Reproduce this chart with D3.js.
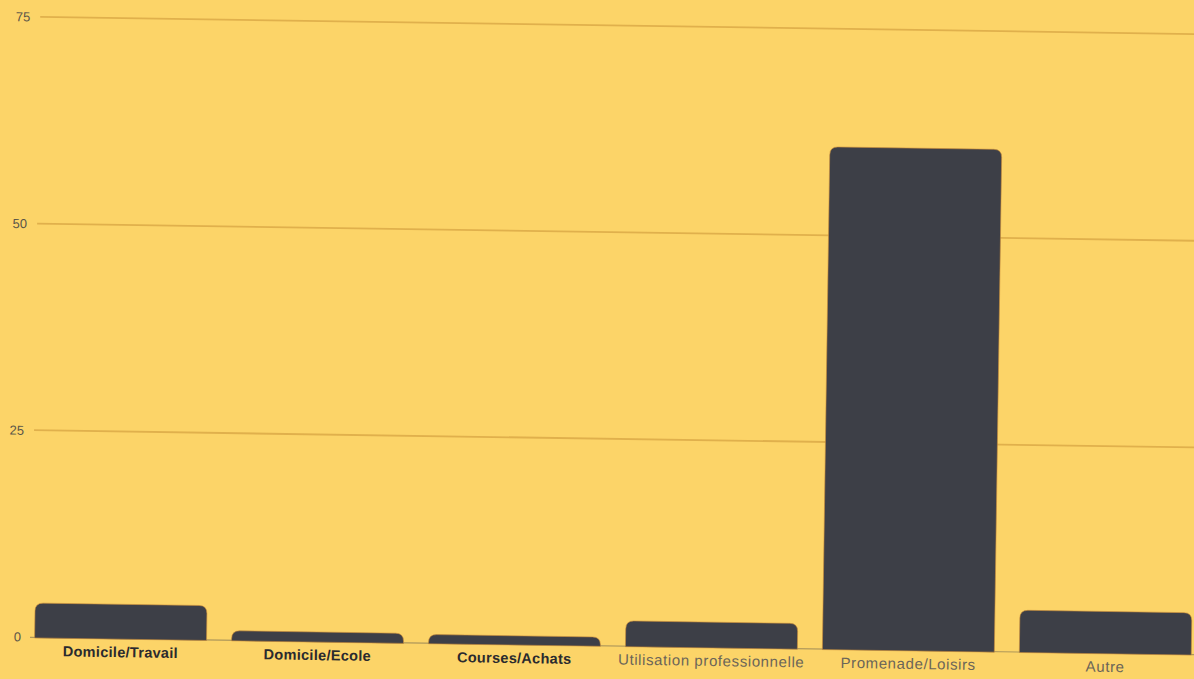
<!DOCTYPE html>
<html>
<head>
<meta charset="utf-8">
<script src="https://cdn.jsdelivr.net/npm/d3@7"></script>
<style>
  html, body { margin: 0; padding: 0; background: #fcd468; }
  svg { display: block; }
</style>
</head>
<body>
<svg id="chart" width="1194" height="679"></svg>
<script>
// Motif de déplacement (%)
const categories = ["Domicile/Travail", "Domicile/Ecole", "Courses/Achats",
                    "Utilisation professionnelle", "Promenade/Loisirs", "Autre"];
const values = [4.1, 1.1, 1.0, 3.0, 60.7, 5.0];
const boldLabels = [true, true, true, false, false, false];
const yTicks = [0, 25, 50, 75];

const W = 1194, H = 679;
const baseY = 637, topY = 17;
const svg = d3.select("#chart");

svg.append("rect").attr("width", W).attr("height", H).attr("fill", "#fcd468");

// the printed chart sits slightly tilted on the page
const g = svg.append("g")
  .attr("transform", `rotate(0.85, 40, ${baseY})`);

const x = d3.scaleBand().domain(categories).range([22, 1204])
  .paddingInner(0.127).paddingOuter(0.064);
const y = d3.scaleLinear().domain([0, 75]).range([baseY, topY]);

// horizontal grid
g.selectAll("line.grid").data(yTicks.filter(d => d > 0)).join("line")
  .attr("class", "grid")
  .attr("x1", 31).attr("x2", 1260)
  .attr("y1", d => y(d)).attr("y2", d => y(d))
  .attr("stroke", "#e0b04c").attr("stroke-width", 1.8);

// y labels
const yAxis = d3.axisLeft(y).tickValues(yTicks).tickSize(0).tickPadding(0);
const ya = g.append("g").attr("transform", "translate(21,0)").call(yAxis);
ya.select(".domain").remove();
ya.selectAll("text")
  .attr("font-family", "'Liberation Sans', Arial, sans-serif")
  .attr("font-size", 13).attr("fill", "#5a5548");

// baseline
g.append("line")
  .attr("x1", 30).attr("x2", 1200)
  .attr("y1", baseY + 0.5).attr("y2", baseY + 0.5)
  .attr("stroke", "#3d3f47").attr("stroke-width", 1.2).attr("opacity", 0.4);

// bars with rounded top corners
function barPath(x0, w, yTop, yBot) {
  const h = yBot - yTop;
  const r = Math.min(8, h, w / 2);
  return `M${x0},${yBot} V${yTop + r} Q${x0},${yTop} ${x0 + r},${yTop} ` +
         `H${x0 + w - r} Q${x0 + w},${yTop} ${x0 + w},${yTop + r} V${yBot} Z`;
}

g.selectAll("path.bar").data(values).join("path")
  .attr("class", "bar")
  .attr("d", (d, i) => barPath(x(categories[i]), x.bandwidth(), y(d), y(0) + 1))
  .attr("fill", "#3d3f47")
  .attr("stroke", "#c98c3a").attr("stroke-width", 0.6);

// category labels
g.selectAll("text.cat").data(categories).join("text")
  .attr("class", "cat")
  .attr("x", d => x(d) + x.bandwidth() / 2)
  .attr("y", baseY + 19)
  .attr("text-anchor", "middle")
  .attr("font-family", "'Liberation Sans', Arial, sans-serif")
  .attr("font-size", (d, i) => boldLabels[i] ? 14.5 : 15)
  .attr("font-weight", (d, i) => boldLabels[i] ? "bold" : "normal")
  .attr("letter-spacing", (d, i) => boldLabels[i] ? 0.3 : 0.6)
  .attr("fill", (d, i) => boldLabels[i] ? "#2a2a2e" : "#6b6558")
  .text(d => d);
</script>
</body>
</html>
